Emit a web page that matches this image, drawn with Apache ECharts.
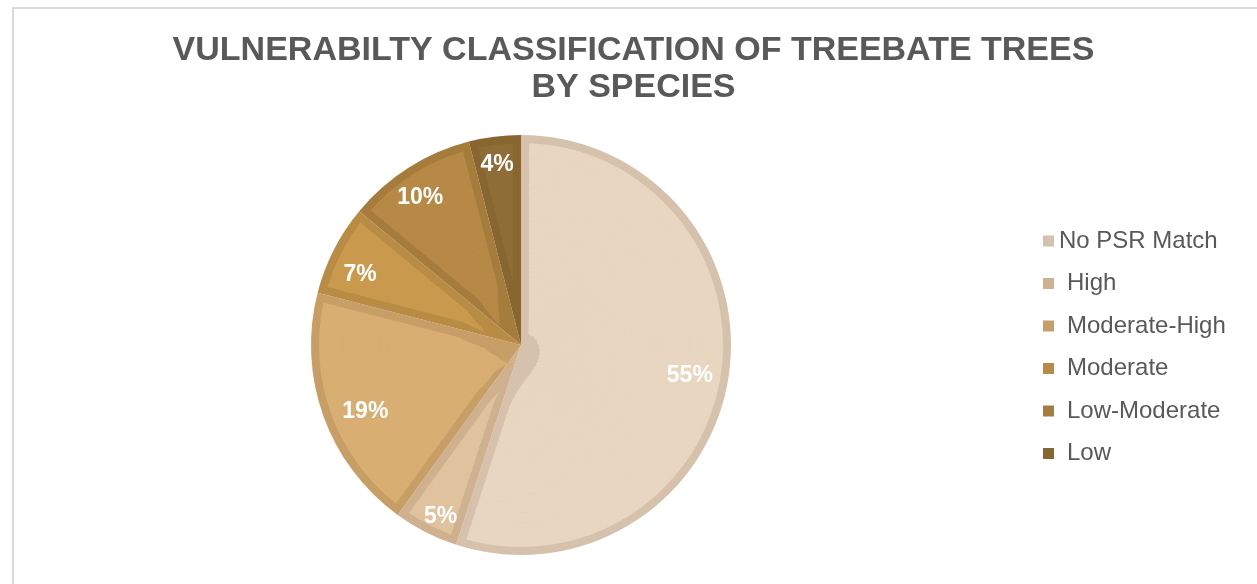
<!DOCTYPE html>
<html>
<head>
<meta charset="utf-8">
<script src="https://cdn.jsdelivr.net/npm/echarts@6/dist/echarts.min.js"></script>
<style>
html,body{margin:0;padding:0;background:#fff;overflow:hidden;width:1257px;height:584px;}
#frame{position:absolute;left:12px;top:7px;width:1400px;height:800px;border:2px solid #DADADA;box-sizing:border-box;}
#chart{position:absolute;left:0;top:0;width:1267px;height:584px;}
</style>
</head>
<body>
<div id="frame"></div>
<div id="chart"></div>
<script>
const titleText = 'VULNERABILTY CLASSIFICATION OF TREEBATE TREES\nBY SPECIES';
const categories = ['No PSR Match', 'High', 'Moderate-High', 'Moderate', 'Low-Moderate', 'Low'];
const values = [55, 5, 19, 7, 10, 4];
const fillColors = ['#E9D6C1', '#E0C39E', '#D9AE73', '#C99A4D', '#B68946', '#8F6D36'];
const borderColors = ['#D6C2AC', '#CFB08F', '#C69E66', '#B98C45', '#A67C3D', '#87662F'];
// label nudges (dx, dy) to mimic the reference's best-fit placement
const labelNudges = [[-4, 3], [-1, 16], [9, 7], [-5, 9], [-7, 0], [-2, -7]];

const chart = echarts.init(document.getElementById('chart'), null, {renderer: 'canvas'});
const center = [521, 345];
const R = 210;          // outer radius
const BW = 8;           // inner border width of each slice
const font = 'Liberation Sans, Arial, sans-serif';
const mk = (styleFn) => categories.map((c, i) => ({name: c, value: values[i], itemStyle: styleFn(i)}));

const series = [];
// base: full wedges in border colours
series.push({
  type: 'pie', center: center, radius: [0, R], startAngle: 90, clockwise: true,
  silent: true, label: {show: false}, labelLine: {show: false},
  data: mk(i => ({color: borderColors[i], borderWidth: 0}))
});
// inset fills: concentric rings whose pad angle keeps a constant-width border band
const inner = R - BW;
let r0 = 14;
while (r0 < inner) {
  const r1 = Math.min(inner, r0 + Math.max(1.5, r0 * 0.06));
  const rm = (r0 + r1) / 2;
  const pad = (2 * BW / rm) * 180 / Math.PI;
  series.push({
    type: 'pie', center: center, radius: [Math.max(0, r0 - 0.4), r1], startAngle: 90, clockwise: true,
    padAngle: pad, silent: true, label: {show: false}, labelLine: {show: false}, legendHoverLink: false,
    data: mk(i => ({color: fillColors[i], borderWidth: 0}))
  });
  r0 = r1;
}
// labels
series.push({
  type: 'pie', center: center, radius: [134, R], startAngle: 90, clockwise: true,
  silent: true, labelLine: {show: false},
  label: {show: true, position: 'inside', formatter: '{d}%', color: '#FFFFFF',
    fontFamily: font, fontWeight: 'bold', fontSize: 23},
  labelLayout: p => ({dx: labelNudges[p.dataIndex][0], dy: labelNudges[p.dataIndex][1]}),
  data: mk(i => ({color: 'rgba(0,0,0,0)', borderWidth: 0}))
});

chart.setOption({
  animation: false,
  title: {
    text: titleText, left: 'center', top: 27,
    textStyle: {fontFamily: font, fontWeight: 'bold', fontSize: 34, lineHeight: 37, color: '#595959'}
  },
  legend: {
    orient: 'vertical', left: 1038, top: 224, itemWidth: 11, itemHeight: 11, itemGap: 18.5,
    icon: 'rect',
    data: categories.map((c, i) => ({name: c, textStyle: i === 0 ? {} : {padding: [0, 0, 0, 8]}})),
    textStyle: {fontFamily: font, fontSize: 24, lineHeight: 24, color: '#595959'}
  },
  color: borderColors,
  series: series
});
</script>
</body>
</html>
